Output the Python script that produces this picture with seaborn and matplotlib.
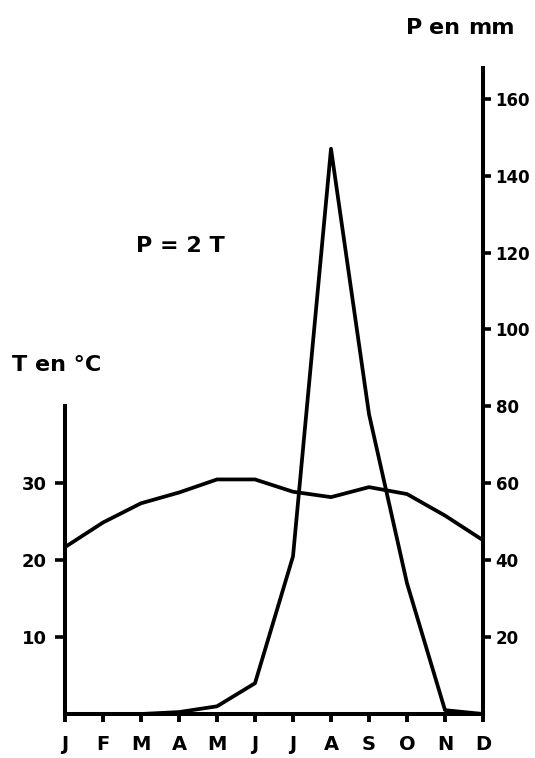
import matplotlib
matplotlib.use("Agg")
import matplotlib.pyplot as plt
import seaborn as sns
import pandas as pd

months = ["J", "F", "M", "A", "M", "J", "J", "A", "S", "O", "N", "D"]
temp_c = [21.7, 24.9, 27.4, 28.8, 30.5, 30.5, 28.9, 28.2, 29.5, 28.6, 25.8, 22.6]
precip_mm = [0, 0, 0, 0.5, 2, 8, 41, 147, 78, 34, 1, 0]
temp_ticks = [10, 20, 30]
precip_ticks = [20, 40, 60, 80, 100, 120, 140, 160]

sns.set_style("white")
plt.rcParams['font.family'] = ['DejaVu Sans']
plt.rcParams['font.weight'] = 'bold'
for k in ('text.color', 'xtick.color', 'ytick.color', 'axes.labelcolor', 'axes.edgecolor'):
    plt.rcParams[k] = 'black'

df = pd.DataFrame({"m": list(range(len(months))), "T": temp_c, "P": precip_mm})

fig = plt.figure(figsize=(5.35, 7.58), dpi=100)
ax = fig.add_axes([65/535, 44/758, (483-65)/535, (714-68)/758])
ax2 = ax.twinx()

sns.lineplot(data=df, x="m", y="T", ax=ax, color="black", lw=2.7, clip_on=False)
sns.lineplot(data=df, x="m", y="P", ax=ax2, color="black", lw=2.7, clip_on=False)

ax.set_xlim(0, 11)
ax.set_ylim(0, 84)
ax2.set_ylim(0, 168)

for a in (ax, ax2):
    for s in a.spines.values():
        s.set_visible(False)
        s.set_linewidth(2.9)
        s.set_color("black")
    a.set_xlabel("")
    a.set_ylabel("")

ax.spines['left'].set_visible(True)
ax.spines['left'].set_bounds(0, 40)
ax.spines['bottom'].set_visible(True)
ax2.spines['right'].set_visible(True)

ax.set_xticks(range(len(months)))
ax.set_xticklabels(months, fontsize=14, fontweight='bold', color='black')
ax.tick_params(axis='x', direction='out', length=6, width=2.8, pad=9, bottom=True, colors='black')
ax.set_yticks(temp_ticks)
ax.set_yticklabels([str(t) for t in temp_ticks], fontsize=13, fontweight='bold', color='black')
ax.tick_params(axis='y', direction='out', length=7, width=2.6, pad=6, left=True, colors='black')

ax2.set_yticks(precip_ticks)
ax2.set_yticklabels([str(t) for t in precip_ticks], fontsize=12, fontweight='bold', color='black')
ax2.tick_params(axis='y', direction='out', length=6, width=2.6, pad=3, right=True, colors='black')

# annotations
fig.text(406/535, 1 - 28/758, "P", fontsize=16, fontweight='bold', ha='left', va='center', color='black')
fig.text(429/535, 1 - 28/758, "en", fontsize=16, fontweight='bold', ha='left', va='center', color='black')
fig.text(468/535, 1 - 28/758, "mm", fontsize=16, fontweight='bold', ha='left', va='center', color='black')
fig.text(12/535, 1 - 365/758, "T en °C", fontsize=16, fontweight='bold', ha='left', va='center', color='black')
fig.text(180/535, 1 - 246/758, "P = 2 T", fontsize=16, fontweight='bold', ha='center', va='center', color='black')

fig.savefig("out.png", dpi=100)
